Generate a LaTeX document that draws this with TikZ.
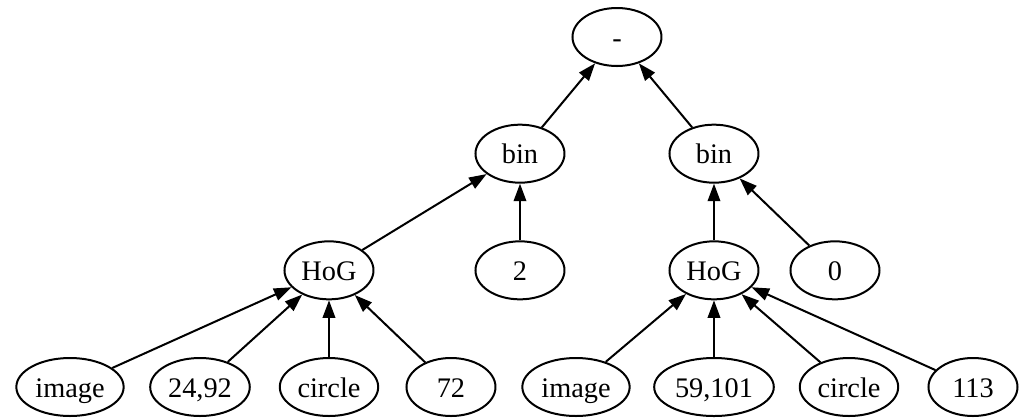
\documentclass[tikz,border=0pt]{standalone}
\usepackage{fontspec}
\setmainfont{Liberation Serif}
\usetikzlibrary{arrows.meta,positioning,shapes.geometric}
\begin{document}
\begin{tikzpicture}[
    on grid,
    node distance=70pt,
    term/.style={draw, ellipse, line width=1.2pt, minimum width=53.4pt, minimum height=34.8pt, inner xsep=2pt, inner ysep=2pt, font=\fontsize{17}{19}\selectfont, text height=12pt, text depth=0pt},
    flow/.style={-{Triangle[length=10.5pt,width=7.5pt]}, line width=1.2pt}
]
\node[term] (minus) {-};
\useasboundingbox (-370.2pt,22.2pt) rectangle (246.6pt,-228pt);
\node[term, below left=70pt and 58.2pt of minus] (binL) {bin};
\node[term, below right=70pt and 58.2pt of minus] (binR) {bin};
\node[term, below left=70pt and 114.6pt of binL] (hogL) {HoG};
\node[term, below=of binL] (two) {2};
\node[term, below=of binR] (hogR) {HoG};
\node[term, below right=70pt and 72.6pt of binR] (zero) {0};
\node[term, below left=70pt and 155.4pt of hogL] (imgL) {image};
\node[term, below left=70pt and 77.4pt of hogL] (ptsL) {24,92};
\node[term, below=of hogL] (circL) {circle};
\node[term, below right=70pt and 73.2pt of hogL] (radL) {72};
\node[term, below left=70pt and 82.8pt of hogR] (imgR) {image};
\node[term, below=of hogR] (ptsR) {59,101};
\node[term, below right=70pt and 81pt of hogR] (circR) {circle};
\node[term, below right=70pt and 155.4pt of hogR] (radR) {113};
\draw[flow] (binL) -- (minus);
\draw[flow] (binR) -- (minus);
\draw[flow] (hogL) -- (binL);
\draw[flow] (two) -- (binL);
\draw[flow] (hogR) -- (binR);
\draw[flow] (zero) -- (binR);
\draw[flow] (imgL) -- (hogL);
\draw[flow] (ptsL) -- (hogL);
\draw[flow] (circL) -- (hogL);
\draw[flow] (radL) -- (hogL);
\draw[flow] (imgR) -- (hogR);
\draw[flow] (ptsR) -- (hogR);
\draw[flow] (circR) -- (hogR);
\draw[flow] (radR) -- (hogR);
\end{tikzpicture}
\end{document}
